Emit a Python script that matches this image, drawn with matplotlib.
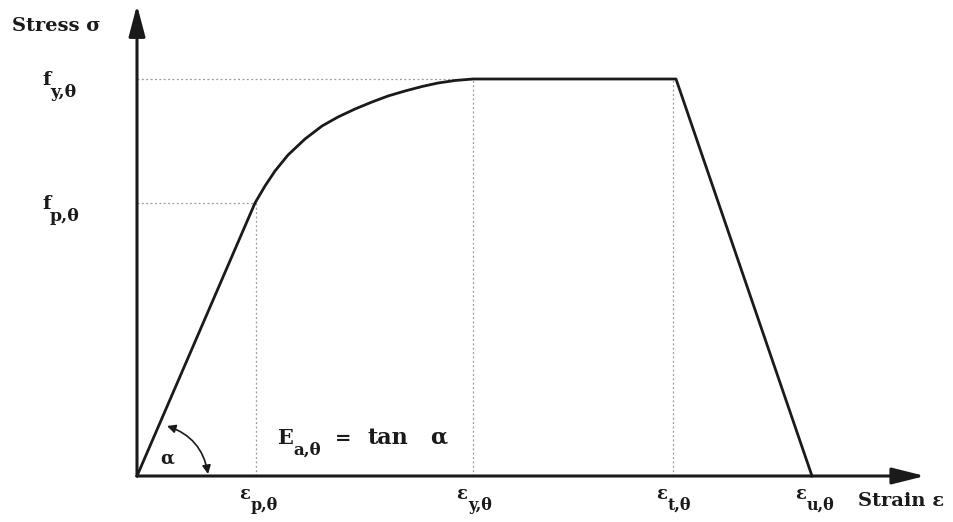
import matplotlib
matplotlib.use("Agg")
import matplotlib.pyplot as plt
from matplotlib.patches import FancyArrowPatch

# ---- data (arbitrary units) ----
strain = [0, 118, 128, 138, 151, 168, 185, 201, 218, 235, 251, 268, 285, 301, 318, 336, 539, 675]
stress = [0, 273, 290, 305, 321, 337, 350, 359, 367, 374, 380, 385, 389.5, 393, 395.5, 397, 397, 0]

eps_p, eps_y, eps_t, eps_u = 119, 336, 536, 675
f_p, f_y = 273, 397

x_tick_sub = ["p,θ", "y,θ", "t,θ", "u,θ"]
x_tick_pos = [eps_p, eps_y, eps_t, eps_u]
y_tick_sub = ["p,θ", "y,θ"]
y_tick_pos = [f_p, f_y]

FONT = "DejaVu Serif"
INK = "#1a1a1a"

fig = plt.figure(figsize=(9.54, 5.22), dpi=100)
ax = fig.add_axes([0, 0, 1, 1])
ax.set_xlim(-137, 817)
ax.set_ylim(-46, 476)
ax.axis("off")

# axes arrows
ax.annotate("", xy=(0, 471), xytext=(0, 0),
            arrowprops=dict(arrowstyle="-|>,head_length=1.9,head_width=0.5",
                            lw=2.2, color=INK, shrinkA=0, shrinkB=0))
ax.annotate("", xy=(788, 0), xytext=(0, 0),
            arrowprops=dict(arrowstyle="-|>,head_length=2.0,head_width=0.5",
                            lw=2.2, color=INK, shrinkA=0, shrinkB=0))

# dotted guide lines
dot_kw = dict(color="#9a9a9a", lw=0.9, ls=(0, (1.5, 2)))
ax.plot([0, eps_p], [f_p, f_p], **dot_kw)
ax.plot([0, eps_y], [f_y, f_y], **dot_kw)
ax.plot([eps_p, eps_p], [0, f_p], **dot_kw)
ax.plot([eps_y, eps_y], [0, f_y], **dot_kw)
ax.plot([eps_t, eps_t], [0, f_y], **dot_kw)

# curve
ax.plot(strain, stress, color=INK, lw=2.0, solid_joinstyle="round")

# tick-like labels
for pos, sub in zip(x_tick_pos, x_tick_sub):
    ax.text(pos - 6, -23, "ε", fontsize=13, family=FONT, weight="bold",
            ha="right", va="baseline", color=INK)
    ax.text(pos - 5, -34, sub, fontsize=11.5, family=FONT, weight="bold",
            ha="left", va="baseline", color=INK)

for pos, sub in zip(y_tick_pos, y_tick_sub):
    ax.text(-86, pos - 6, "f", fontsize=14, family=FONT, weight="bold",
            ha="right", va="baseline", color=INK)
    ax.text(-87, pos - 18, sub, fontsize=12.5, family=FONT, weight="bold",
            ha="left", va="baseline", color=INK)

ax.text(-125, 450, "Stress σ", fontsize=14, family=FONT, weight="bold",
        ha="left", va="center", color=INK)
ax.text(721, -25, "Strain ε", fontsize=14, family=FONT, weight="bold",
        ha="left", va="center", color=INK)

# modulus annotation
ax.text(140, 32, "E", fontsize=15, family=FONT, weight="bold",
        ha="left", va="baseline", color=INK)
ax.text(156, 21, "a,θ", fontsize=12, family=FONT, weight="bold",
        ha="left", va="baseline", color=INK)
ax.text(198, 37, "=", fontsize=14, family=FONT, weight="bold",
        ha="left", va="center", color=INK)
ax.text(231, 32, "tan", fontsize=16, family=FONT, weight="bold",
        ha="left", va="baseline", color=INK)
ax.text(293, 32, "α", fontsize=16, family=FONT, weight="bold",
        ha="left", va="baseline", color=INK)
ax.text(23, 17, "α", fontsize=13, family=FONT, weight="bold",
        ha="left", va="center", color=INK)

arc = FancyArrowPatch((30, 50), (71, 2),
                      connectionstyle="arc3,rad=-0.3",
                      arrowstyle="<|-|>,head_length=5,head_width=2.5",
                      lw=1.2, color=INK, shrinkA=0, shrinkB=0)
ax.add_patch(arc)

fig.savefig("out.png", dpi=100)
